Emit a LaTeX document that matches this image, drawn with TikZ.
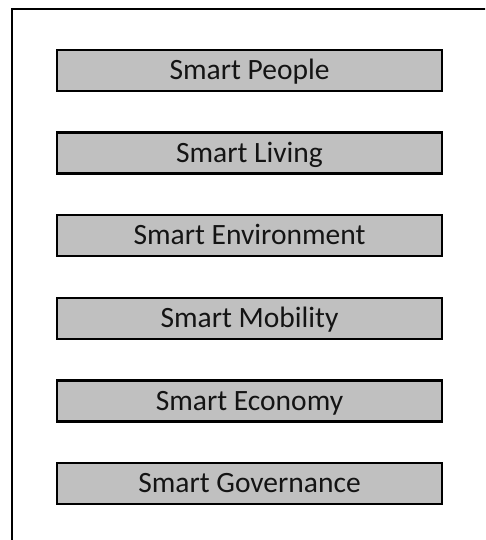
\documentclass[tikz,border=0pt]{standalone}
\usepackage{fontspec}
\setmainfont{Carlito}
\definecolor{boxgray}{HTML}{C0C0C0}
\definecolor{txt}{HTML}{141414}
\begin{document}
\begin{tikzpicture}[x=1pt,y=1pt,
  smartbox/.style={draw=black, line width=2.5pt, fill=boxgray, minimum width=385pt,
    minimum height=41pt, inner sep=0pt, text height=18.5pt, text depth=0pt,
    font=\fontsize{29.5}{31}\selectfont, text=txt}]
\useasboundingbox (0,0) rectangle (485,-540);
\begin{scope}
\clip (0,0) rectangle (485,-540);
\coordinate (fbl) at (12,-545);
\coordinate (ftl) at (12,-9);
\coordinate (ftr) at (490,-9);
\draw[line width=2.8pt] (fbl) -- (ftl) -- (ftr);
\end{scope}
\node[smartbox] (b1) at (249.5,-70.5) {Smart People};
\node[smartbox] (b2) at (249.5,-153.1) {Smart Living};
\node[smartbox] (b3) at (249.5,-235.7) {Smart Environment};
\node[smartbox] (b4) at (249.5,-318.3) {Smart Mobility};
\node[smartbox] (b5) at (249.5,-400.9) {Smart Economy};
\node[smartbox] (b6) at (249.5,-483.5) {Smart Governance};
\end{tikzpicture}
\end{document}
